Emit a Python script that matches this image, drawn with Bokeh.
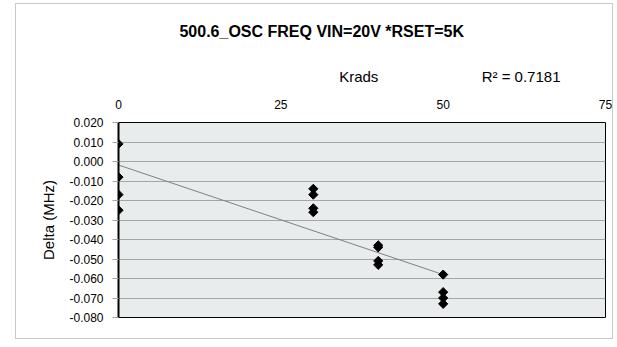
import math
from bokeh.plotting import figure
from bokeh.models import (FixedTicker, NumeralTickFormatter, Range1d, LinearAxis)
from bokeh.embed import file_html
from bokeh.resources import INLINE

# ---- data ----
krads = [0, 0, 0, 0, 30, 30, 30, 30, 40, 40, 40, 40, 50, 50, 50, 50]
delta = [0.009, -0.008, -0.017, -0.025,
         -0.014, -0.017, -0.024, -0.026,
         -0.043, -0.044, -0.051, -0.053,
         -0.058, -0.067, -0.070, -0.073]
trend_krads = [0, 50]
trend_delta = [-0.0018, -0.058]
x_ticks = [0, 25, 50, 75]
y_ticks = [0.02, 0.01, 0.0, -0.01, -0.02, -0.03, -0.04, -0.05, -0.06, -0.07, -0.08]
title_text = "500.6_OSC FREQ VIN=20V *RSET=5K"
x_label = "Krads"
y_label = "Delta (MHz)"
r2_text = "R² = 0.7181"

# where the header texts sit along the x axis (layout only)
title_pos = 31.3
x_label_pos = 37
r2_pos = 62

FONT = "Liberation Sans"

p = figure(width=598, height=336, output_backend="svg", toolbar_location=None,
           x_range=Range1d(0, 75), y_range=Range1d(-0.08, 0.02),
           x_axis_location=None, y_axis_location=None,
           min_border_left=102, min_border_right=9, min_border_top=118,
           min_border_bottom=23)
p.styles = {"margin-left": "15px", "margin-top": "3px", "border": "1px solid #C8C8C8"}
p.background_fill_color = "#E8ECEC"
p.border_fill_color = "white"
p.outline_line_color = "black"
p.outline_line_width = 1
p.title.visible = False


def header_axis(ticks, overrides, size, standoff, bold=False):
    ax = LinearAxis(ticker=FixedTicker(ticks=ticks))
    if overrides:
        ax.major_label_overrides = overrides
    ax.axis_line_color = None
    ax.major_tick_line_color = None
    ax.major_tick_out = 0
    ax.major_tick_in = 0
    ax.minor_tick_line_color = None
    ax.major_label_text_font = FONT
    ax.major_label_text_font_size = size
    ax.major_label_text_font_style = "bold" if bold else "normal"
    ax.major_label_text_color = "black"
    ax.major_label_standoff = standoff
    return ax


# x axis tick labels (above the frame), then the "Krads"/R² row, then the title
p.add_layout(header_axis(x_ticks, None, "12px", 14), "above")
p.add_layout(header_axis([x_label_pos, r2_pos],
                         {x_label_pos: x_label, r2_pos: r2_text}, "15px", 12), "above")
p.add_layout(header_axis([title_pos], {title_pos: title_text}, "16px", 25, bold=True),
             "above")

# y axis
yax = LinearAxis(ticker=FixedTicker(ticks=y_ticks), axis_label=y_label,
                 formatter=NumeralTickFormatter(format="0.000"))
yax.axis_line_color = "black"
yax.axis_line_width = 2
yax.major_tick_line_color = "#A6A6A6"
yax.major_tick_in = 0
yax.major_tick_out = 6
yax.minor_tick_line_color = None
yax.major_label_text_font = FONT
yax.major_label_text_font_size = "12px"
yax.major_label_text_color = "black"
yax.major_label_standoff = 9
yax.axis_label_text_font = FONT
yax.axis_label_text_font_size = "15px"
yax.axis_label_text_font_style = "normal"
yax.axis_label_text_color = "black"
yax.axis_label_standoff = 9
p.add_layout(yax, "left")

p.xgrid.visible = False
p.ygrid.ticker = FixedTicker(ticks=y_ticks)
p.ygrid.grid_line_color = "#A6A6A6"
p.ygrid.grid_line_width = 1

# trend line
p.line(trend_krads, trend_delta, line_color="#808080", line_width=1)

# points
p.scatter(krads, delta, marker="square", size=6.5, angle=math.pi / 4,
          fill_color="black", line_color="black")

open("out.html", "w").write(file_html(p, INLINE))
